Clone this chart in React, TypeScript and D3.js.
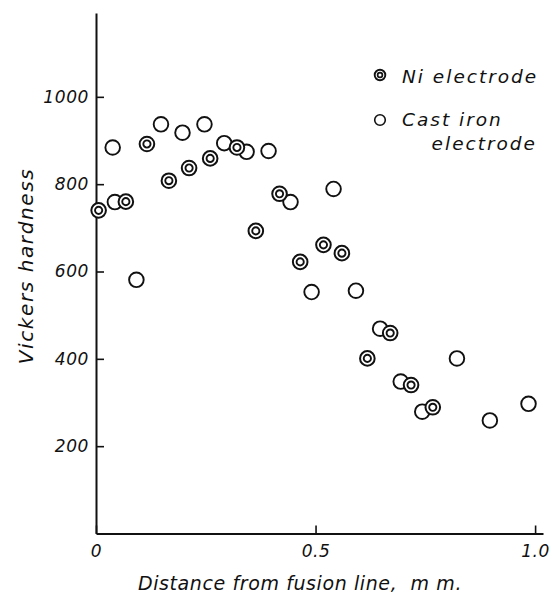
import { useEffect, useRef } from 'react';
import * as d3 from 'd3';

// Ni electrode readings: distance (mm) / Vickers hardness
const niDistance = [0.006, 0.068, 0.116, 0.166, 0.212, 0.26, 0.321, 0.364, 0.418, 0.465, 0.518, 0.56, 0.618, 0.67, 0.7175, 0.767];
const niHardness = [740, 760, 892, 808, 837, 859, 884, 693, 778, 622, 661, 642, 401, 459, 340, 289];

// cast iron electrode readings
const ciDistance = [0.038, 0.043, 0.092, 0.148, 0.197, 0.247, 0.292, 0.343, 0.393, 0.443, 0.491, 0.541, 0.592, 0.647, 0.694, 0.743, 0.822, 0.897, 0.985];
const ciHardness = [884, 759, 581, 937, 918, 937, 894, 874, 876, 759, 553, 789, 556, 469, 348, 279, 401, 259, 297];

const xTicks = [0, 0.5, 1.0];
const xTickLabels = ['0', '0.5', '1.0'];
const yTicks = [200, 400, 600, 800, 1000];

const FONT = '"DejaVu Sans", sans-serif';

const App = () => {
    const svgRef = useRef<SVGSVGElement>(null);
    const width = 552;
    const height = 597;
    const margin = { top: 13, right: 9, bottom: 63.5, left: 96 };

    useEffect(() => {
        const svg = d3.select(svgRef.current);
        svg.selectAll('*').remove();

        const x = d3.scaleLinear().domain([0, 1.018]).range([margin.left, width - margin.right]);
        const y = d3.scaleLinear().domain([0, 1192]).range([height - margin.bottom, margin.top]);

        // axes, ticks pointing inward
        const xAxis = svg.append('g')
            .attr('transform', `translate(0,${height - margin.bottom})`)
            .call(d3.axisBottom(x).tickValues(xTicks).tickSize(-8).tickPadding(11.5)
                .tickFormat((d, i) => xTickLabels[i]).tickSizeOuter(0));
        const yAxis = svg.append('g')
            .attr('transform', `translate(${margin.left},0)`)
            .call(d3.axisLeft(y).tickValues(yTicks).tickSize(-8).tickPadding(7)
                .tickFormat(d3.format('d')).tickSizeOuter(0));

        [xAxis, yAxis].forEach(g => {
            g.select('.domain').attr('stroke', '#111').attr('stroke-width', 2);
            g.selectAll('.tick line').attr('stroke', '#111').attr('stroke-width', 1.6);
            g.selectAll('.tick text')
                .attr('font-family', FONT).attr('font-style', 'italic')
                .attr('font-size', 17).attr('letter-spacing', 0.6).attr('fill', '#111');
        });

        // cast iron: plain circles
        svg.append('g').selectAll('circle')
            .data(ciDistance.map((d, i) => [d, ciHardness[i]]))
            .join('circle')
            .attr('cx', d => x(d[0]))
            .attr('cy', d => y(d[1]))
            .attr('r', 7.3)
            .attr('fill', 'white')
            .attr('stroke', '#111')
            .attr('stroke-width', 1.9);

        // Ni: double circles
        const ni = svg.append('g').selectAll('g')
            .data(niDistance.map((d, i) => [d, niHardness[i]]))
            .join('g')
            .attr('transform', d => `translate(${x(d[0])},${y(d[1])})`);
        ni.append('circle').attr('r', 7.3).attr('fill', 'white').attr('stroke', '#111').attr('stroke-width', 2);
        ni.append('circle').attr('r', 3.6).attr('fill', 'white').attr('stroke', '#111').attr('stroke-width', 1.9);

        // legend
        const leg = svg.append('g');
        leg.append('circle').attr('cx', 380).attr('cy', 75).attr('r', 5.3)
            .attr('fill', 'white').attr('stroke', '#111').attr('stroke-width', 1.9);
        leg.append('circle').attr('cx', 380).attr('cy', 75).attr('r', 2.4)
            .attr('fill', 'white').attr('stroke', '#111').attr('stroke-width', 1.7);
        leg.append('circle').attr('cx', 380).attr('cy', 120).attr('r', 5.3)
            .attr('fill', 'white').attr('stroke', '#111').attr('stroke-width', 1.6);

        const legText = [
            { t: 'Ni electrode', x: 402, y: 83, a: 'start' },
            { t: 'Cast iron', x: 402, y: 126, a: 'start' },
            { t: 'electrode', x: 537, y: 150, a: 'end' },
        ];
        leg.selectAll('text').data(legText).join('text')
            .attr('x', d => d.x).attr('y', d => d.y)
            .attr('text-anchor', d => d.a)
            .attr('font-family', FONT).attr('font-style', 'italic')
            .attr('font-size', 18.5).attr('letter-spacing', 2).attr('fill', '#111')
            .text(d => d.t);

        // axis titles
        svg.append('text')
            .attr('x', 300).attr('y', 590)
            .attr('text-anchor', 'middle')
            .attr('font-family', FONT).attr('font-style', 'italic')
            .attr('font-size', 19).attr('letter-spacing', 0.6).attr('fill', '#111')
            .attr('xml:space', 'preserve')
            .text('Distance from fusion line,  m m.');

        svg.append('text')
            .attr('transform', 'translate(33,266) rotate(-90)')
            .attr('text-anchor', 'middle')
            .attr('font-family', FONT).attr('font-style', 'italic')
            .attr('font-size', 20).attr('letter-spacing', 1.6).attr('fill', '#111')
            .text('Vickers hardness');
    }, []);

    return (
        <svg ref={svgRef} width={width} height={height}
            style={{ position: 'absolute', left: 0, top: 0, background: 'white' }} />
    );
};

export default App;
